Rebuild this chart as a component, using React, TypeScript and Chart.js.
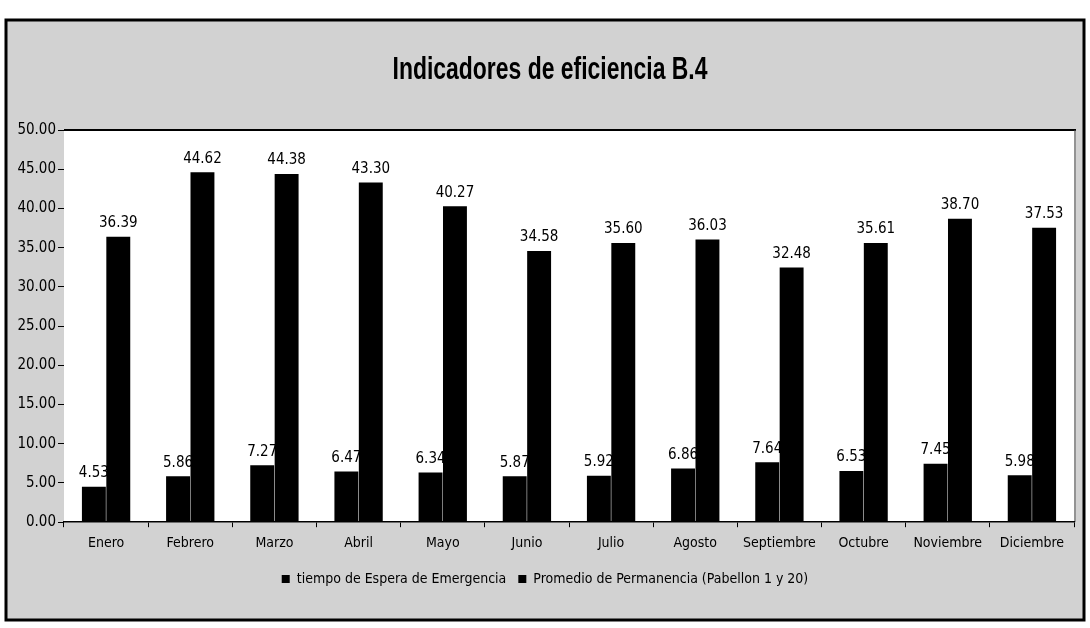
import React, { useEffect, useRef } from "react";
import { Chart, registerables } from "chart.js";

Chart.register(...registerables);

const months = ["Enero", "Febrero", "Marzo", "Abril", "Mayo", "Junio", "Julio", "Agosto", "Septiembre", "Octubre", "Noviembre", "Diciembre"];
const esperaEmergencia = [4.53, 5.86, 7.27, 6.47, 6.34, 5.87, 5.92, 6.86, 7.64, 6.53, 7.45, 5.98];
const promedioPermanencia = [36.39, 44.62, 44.38, 43.3, 40.27, 34.58, 35.6, 36.03, 32.48, 35.61, 38.7, 37.53];
const seriesNames = ["tiempo de Espera de Emergencia", "Promedio de Permanencia (Pabellon 1 y 20)"];
const chartTitle = "Indicadores de eficiencia B.4";
const yMin = 0;
const yMax = 50;
const yStep = 5;

const FONT = '"Liberation Sans Narrow", "DejaVu Sans Condensed", "Open Sans", sans-serif';

const framePlugin = {
  id: "framePlugin",
  beforeDraw(chart: any) {
    const { ctx, chartArea, width, height } = chart;
    ctx.save();
    ctx.fillStyle = "#ffffff";
    ctx.fillRect(0, 0, width, height);
    ctx.fillStyle = "#d2d2d2";
    ctx.fillRect(6, 20, width - 12, height - 28);
    ctx.fillStyle = "#ffffff";
    ctx.fillRect(chartArea.left, chartArea.top, chartArea.right - chartArea.left, chartArea.bottom - chartArea.top);
    ctx.strokeStyle = "#000";
    ctx.lineWidth = 2;
    ctx.beginPath();
    ctx.moveTo(chartArea.left, chartArea.top);
    ctx.lineTo(chartArea.right + 2, chartArea.top);
    ctx.stroke();
    ctx.lineWidth = 1;
    ctx.strokeStyle = "#555";
    ctx.beginPath();
    ctx.moveTo(chartArea.right + 1, chartArea.top);
    ctx.lineTo(chartArea.right + 1, chartArea.bottom);
    ctx.stroke();
    ctx.strokeStyle = "#000";
    ctx.lineWidth = 3;
    ctx.strokeRect(6, 20, width - 12, height - 28);
    // title, drawn condensed like the reference
    ctx.fillStyle = "#000";
    ctx.font = 'bold 31px "Liberation Sans", "DejaVu Sans", sans-serif';
    ctx.textAlign = "center";
    ctx.textBaseline = "middle";
    ctx.translate(550, 70);
    ctx.scale(0.74, 1);
    ctx.fillText(chartTitle, 0, 0);
    ctx.restore();
  },
};

const valueLabels = {
  id: "valueLabels",
  afterDatasetsDraw(chart: any) {
    const { ctx } = chart;
    ctx.save();
    ctx.fillStyle = "#000";
    ctx.font = `15px ${FONT}`;
    ctx.textAlign = "center";
    ctx.textBaseline = "bottom";
    chart.data.datasets.forEach((ds: any, i: number) => {
      const meta = chart.getDatasetMeta(i);
      meta.data.forEach((bar: any, j: number) => {
        const v = ds.data[j] as number;
        ctx.fillText(v.toFixed(2), bar.x, bar.y - 6);
      });
    });
    ctx.restore();
  },
};

export default function App() {
  const ref = useRef<HTMLCanvasElement | null>(null);
  useEffect(() => {
    if (!ref.current) return;
    const chart = new Chart(ref.current, {
      type: "bar",
      data: {
        labels: months,
        datasets: [
          { label: seriesNames[0], data: esperaEmergencia, backgroundColor: "#000", borderWidth: 0 },
          { label: seriesNames[1], data: promedioPermanencia, backgroundColor: "#000", borderWidth: 0 },
        ],
      },
      options: {
        responsive: false,
        animation: false,
        maintainAspectRatio: false,
        layout: { padding: { left: 16, right: 16, top: 130, bottom: 32 } },
        datasets: { bar: { categoryPercentage: 0.58, barPercentage: 0.98 } },
        plugins: {
          title: { display: false },
          legend: {
            position: "bottom",
            labels: {
              color: "#000",
              font: { family: FONT, size: 14 },
              boxWidth: 8,
              boxHeight: 8,
              padding: 12,
            },
          },
          tooltip: { enabled: false },
        },
        scales: {
          x: {
            grid: { display: true, drawOnChartArea: false, drawTicks: true, tickLength: 5, color: "#000", offset: true },
            border: { display: true, color: "#000", width: 1.5 },
            ticks: { color: "#000", font: { family: FONT, size: 14 }, padding: 8, maxRotation: 0, autoSkip: false },
          },
          y: {
            min: yMin,
            max: yMax,
            ticks: {
              stepSize: yStep,
              color: "#000",
              font: { family: FONT, size: 15 },
              padding: 2,
              callback: (v: any) => Number(v).toFixed(2),
            },
            grid: { display: true, drawOnChartArea: false, drawTicks: true, tickLength: 6, color: "#000" },
            border: { display: false },
            afterFit: (scale: any) => {
              scale.width = 48;
            },
          },
        },
      },
      plugins: [framePlugin, valueLabels],
    });
    return () => chart.destroy();
  }, []);
  return (
    <div style={{ position: "absolute", left: 0, top: 0, width: 1090, height: 628 }}>
      <canvas ref={ref} width={1090} height={628} style={{ width: 1090, height: 628, display: "block" }} />
    </div>
  );
}
